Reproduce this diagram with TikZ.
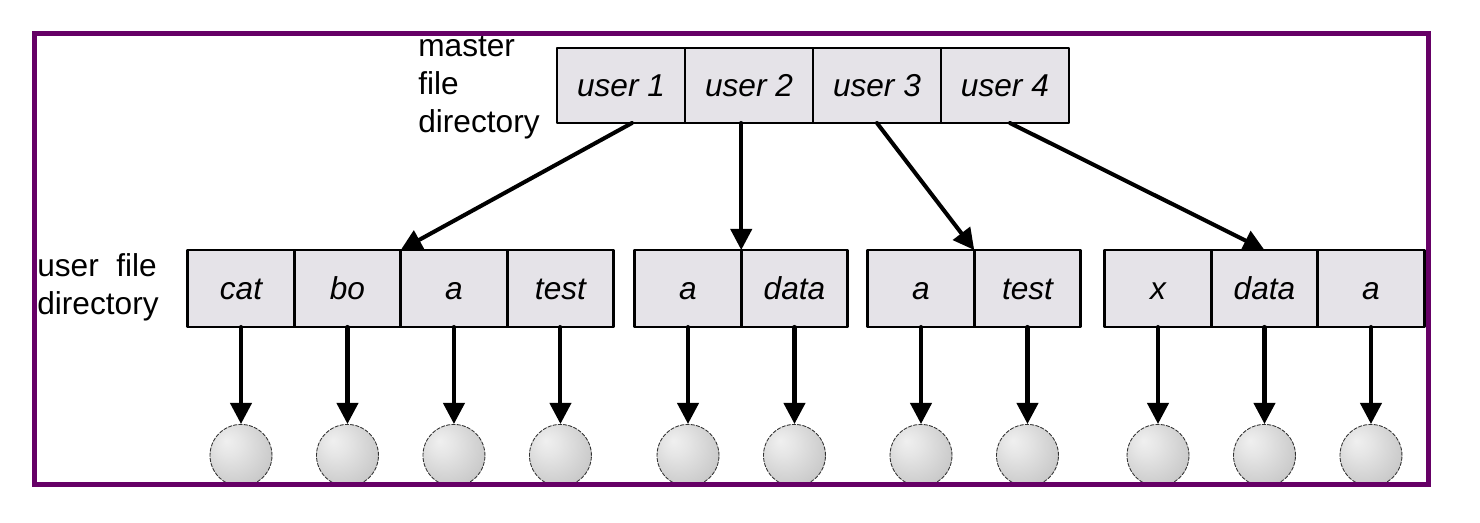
\documentclass[tikz,border=0pt]{standalone}
\usepackage{fontspec}
\setmainfont{Liberation Sans}
\usetikzlibrary{arrows.meta,positioning}
\definecolor{framepurple}{RGB}{102,0,102}
\definecolor{cellgray}{RGB}{229,227,232}
\pgfdeclareradialshading{fileball}{\pgfqpoint{-12bp}{12bp}}{color(0bp)=(gray!12); color(10bp)=(gray!20);
  color(30bp)=(gray!40); color(45bp)=(gray!62); color(60bp)=(gray!80)}
\tikzset{
  cell/.style={draw=black,fill=cellgray,line width=1.6pt,minimum width=2.13cm,minimum height=1.54cm,
    inner sep=0pt,outer sep=0pt,text height=13pt,text depth=0pt,font=\fontsize{18}{21}\selectfont\itshape},
  mcell/.style={cell,minimum width=2.56cm,minimum height=1.5cm},
  ball/.style={circle,shading=fileball,draw=gray!40!black,line width=0.5pt,
    dash pattern=on 2pt off 1pt,minimum size=1.24cm,inner sep=0pt},
  lbl/.style={align=left,inner sep=0pt,font=\fontsize{18}{21.5}\selectfont},
  link/.style={->,line width=2.3pt}
}
\begin{document}
\begin{tikzpicture}[line cap=round,line join=round,>={Triangle[length=12pt,width=12pt]},x=0.02cm,y=-0.02cm]
\useasboundingbox (0,0) rectangle (1480,522);
\begin{scope}
\clip (35,34) rectangle (1428,484);
% master file directory
\node[mcell] (u1) at (621,85.5) {user 1};
\node[mcell,right=0pt of u1] (u2) {user 2};
\node[mcell,right=0pt of u2] (u3) {user 3};
\node[mcell,right=0pt of u3] (u4) {user 4};
\node[lbl,anchor=north west] (mlbl) at (418,36) {master\\file\\directory};
% user file directories
\node[cell] (c1) at (241,288.5) {cat};
\node[cell,right=0pt of c1] (c2) {bo};
\node[cell,right=0pt of c2] (c3) {a};
\node[cell,right=0pt of c3] (c4) {test};
\node[cell] (d1) at (688,288.5) {a};
\node[cell,right=0pt of d1] (d2) {data};
\node[cell] (e1) at (921,288.5) {a};
\node[cell,right=0pt of e1] (e2) {test};
\node[cell] (g1) at (1158,288.5) {x};
\node[cell,right=0pt of g1] (g2) {data};
\node[cell,right=0pt of g2] (g3) {a};
\node[lbl,anchor=north west] (ulbl) at (37,253) {user\ \ file\\directory};
% files
\foreach \c in {c1,c2,c3,c4,d1,d2,e1,e2,g1,g2,g3}
{
\node[ball,below=1.94cm of \c] (f\c) {};
\draw[link] (\c) -- (f\c);
}
\draw[link] ([xshift=0.22cm]u1.south) -- (c3.north west);
\draw[link] (d1.north east |- u2.south) -- (d1.north east);
\draw[link] (u3.south) -- (e1.north east);
\draw[link] ([xshift=0.1cm]u4.south) -- (g2.north);
\end{scope}
\draw[framepurple,line width=0.1cm,line join=miter] (34.5,33.5) rectangle (1428.5,484.5);
\end{tikzpicture}
\end{document}
